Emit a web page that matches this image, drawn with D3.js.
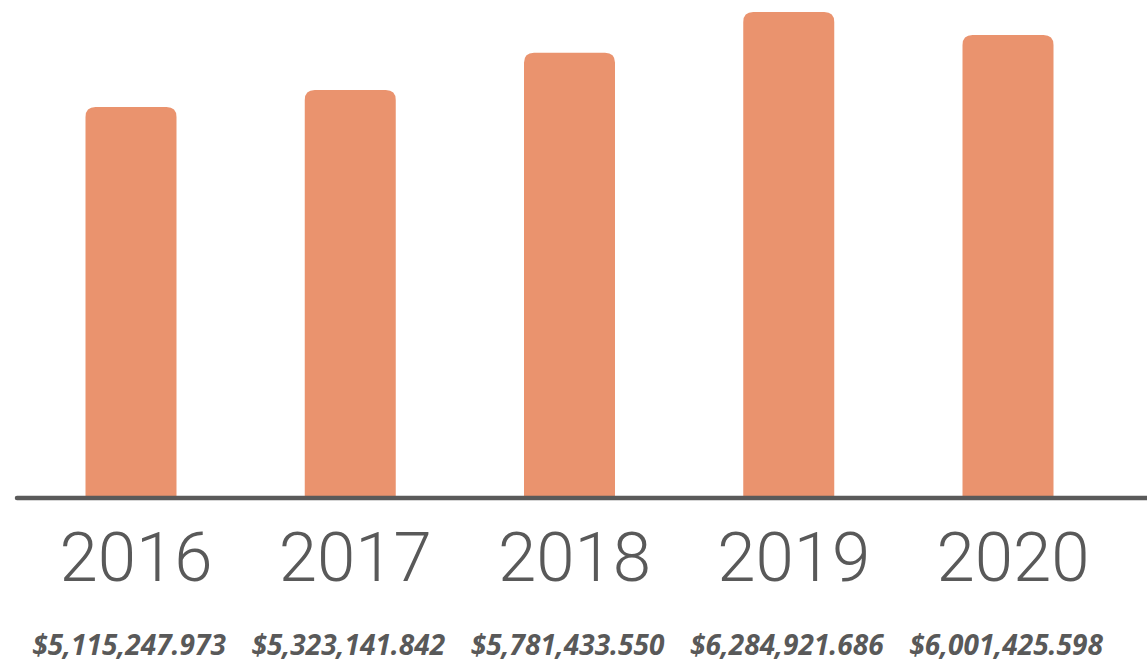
<!DOCTYPE html>
<meta charset="utf-8">
<style>
body{ margin: 0; background: #fff; }
svg{ display: block; }
.year{ font-family: Roboto, "Liberation Sans", sans-serif; font-weight: 300; fill: #595959; }
.amount{ font-family: "Open Sans", sans-serif; font-weight: 700; font-style: italic; fill: #595959; }
</style>
<div id='graph'></div>
<script src="https://cdn.jsdelivr.net/npm/d3@7"></script>
<script>

var years = ['2016', '2017', '2018', '2019', '2020']
var amounts = [5115247.973, 5323141.842, 5781433.550, 6284921.686, 6001425.598]
var amountLabels = ['$5,115,247.973', '$5,323,141.842', '$5,781,433.550', '$6,284,921.686', '$6,001,425.598']

var width = 1147, height = 662
var base = 496, r = 10, bw = 91

var svg = d3.select('#graph').append('svg')
    .attr('width', width).attr('height', height)

// centre of each bar
var x = d3.scalePoint().domain(years).range([131, 1008])
var y = d3.scaleLinear().domain([320000, d3.max(amounts)]).range([base, 12])

// bars with rounded tops only
function barPath(d, i){
  var x0 = x(years[i]) - bw/2, w = bw, y0 = y(d)
  return 'M' + x0 + ',' + base +
    'V' + (y0 + r) +
    'Q' + x0 + ',' + y0 + ' ' + (x0 + r) + ',' + y0 +
    'H' + (x0 + w - r) +
    'Q' + (x0 + w) + ',' + y0 + ' ' + (x0 + w) + ',' + (y0 + r) +
    'V' + base + 'Z'
}

svg.selectAll('path.bar').data(amounts).enter().append('path')
    .attr('class', 'bar')
    .attr('d', barPath)
    .style('fill', '#ea936e')

svg.append('line')
    .attr('x1', 17).attr('x2', width + 5)
    .attr('y1', base + 2).attr('y2', base + 2)
    .style('stroke', '#5a5a5a')
    .style('stroke-width', 4.5)
    .style('stroke-linecap', 'round')

svg.selectAll('text.year').data(years).enter().append('text')
    .attr('class', 'year')
    .attr('x', function(d){ return x(d) + 5 })
    .attr('y', 581)
    .attr('text-anchor', 'middle')
    .style('font-size', '69px')
    .text(function(d){ return d })

svg.selectAll('text.amount').data(amountLabels).enter().append('text')
    .attr('class', 'amount')
    .attr('x', function(d, i){ return x(years[i]) - 2 })
    .attr('y', 655)
    .attr('text-anchor', 'middle')
    .style('font-size', '28px')
    .text(function(d){ return d })

</script>
